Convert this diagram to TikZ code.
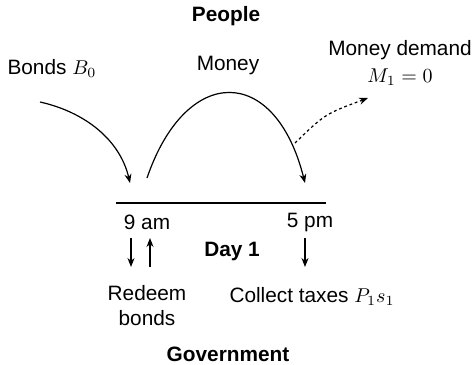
\documentclass[tikz,border=0pt]{standalone}
\usepackage{fontspec}
\setmainfont{Liberation Sans}
\usetikzlibrary{arrows.meta}
\tikzset{
  txt/.style={font=\fontsize{10.4}{12.5}\selectfont, inner sep=1pt},
  hd/.style={txt, font=\fontsize{10.4}{12.5}\selectfont\bfseries},
  flow/.style={-{Stealth[length=4.5pt,width=3.5pt]}, line width=0.6pt},
}
\begin{document}
\begin{tikzpicture}[x=0.5pt,y=-0.5pt]
  \useasboundingbox (0,0) rectangle (474,364);
  % who
  \node[hd] (people) at (226,16) {People};
  \node[hd] (gov) at (228,354) {Government};
  % top labels
  \node[txt] (bonds) at (52,68) {Bonds $B_0$};
  \node[txt] (money) at (228,66) {Money};
  \node[txt, align=center] (demand) at (400,63) {Money demand\\[1pt]$M_1=0$};
  % time line
  \coordinate (am) at (116,203);
  \coordinate (pm) at (326,203);
  \draw[line width=0.6pt] (am) -- (pm);
  \node[txt] (nine) at (147,222) {9 am};
  \node[txt] (five) at (310,222) {5 pm};
  \node[hd] (day) at (232,251) {Day 1};
  % flows with the people
  \coordinate (b0) at (40,102);   \coordinate (b1) at (130,183);
  \coordinate (m0) at (147,178);  \coordinate (m1) at (305,183);
  \coordinate (d0) at (295,143);  \coordinate (d1) at (368,98);
  \draw[flow] (b0) .. controls (85,112) and (120,140) .. (b1);
  \draw[flow] (m0) .. controls (186,64) and (275,64) .. (m1);
  \draw[flow, dash pattern=on 1.4pt off 1.4pt] (d0) .. controls (325,114) .. (d1);
  % flows with the government
  \node[txt, align=center] (redeem) at (147,306) {Redeem\\bonds};
  \node[txt] (taxes) at (312,296) {Collect taxes $P_1s_1$};
  \coordinate (r0) at (131,238); \coordinate (r1) at (131,267);
  \coordinate (u0) at (150,267); \coordinate (u1) at (150,238);
  \coordinate (t0) at (305,238); \coordinate (t1) at (305,267);
  \draw[flow] (r0) -- (r1);
  \draw[flow] (u0) -- (u1);
  \draw[flow] (t0) -- (t1);
\end{tikzpicture}
\end{document}
